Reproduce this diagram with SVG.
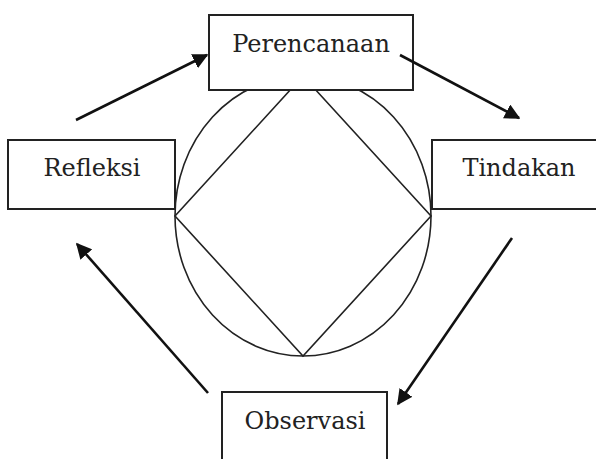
<svg xmlns="http://www.w3.org/2000/svg" width="596" height="459" viewBox="0 0 596 459">
<style>
.box{fill:#fff;stroke:#222;stroke-width:2}
.lbl{font-family:"DejaVu Serif","Liberation Serif",serif;font-size:24px;fill:#222;text-anchor:middle}
.shape{fill:none;stroke:#222;stroke-width:1.6}
.arr{stroke:#111;stroke-width:2.6;fill:none;marker-end:url(#ah)}
</style>
<defs>
<marker id="ah" viewBox="0 0 10 10" refX="9" refY="5" markerWidth="6" markerHeight="6" orient="auto" markerUnits="strokeWidth">
<path d="M0,0 L10,5 L0,10 z" fill="#111"/>
</marker>
</defs>
<rect width="596" height="459" fill="#fff"/>
<g id="cycle">
<ellipse class="shape" cx="303" cy="216" rx="128" ry="140"/>
<polygon class="shape" points="303,76 431,216 303,356 175,216"/>
</g>
<g id="perencanaan">
<rect class="box" x="209" y="15" width="204" height="75"/>
<text class="lbl" x="311" y="52">Perencanaan</text>
</g>
<g id="refleksi">
<rect class="box" x="8" y="140" width="167" height="69"/>
<text class="lbl" x="92" y="176">Refleksi</text>
</g>
<g id="tindakan">
<rect class="box" x="432" y="140" width="175" height="69"/>
<text class="lbl" x="519" y="176">Tindakan</text>
</g>
<g id="observasi">
<rect class="box" x="222" y="392" width="165" height="80"/>
<text class="lbl" x="305" y="429">Observasi</text>
</g>
<g id="connectors">
<line class="arr" x1="76" y1="120" x2="207" y2="55"/>
<line class="arr" x1="400" y1="55" x2="519" y2="118"/>
<line class="arr" x1="512" y1="238" x2="398" y2="404"/>
<line class="arr" x1="208" y1="393" x2="77" y2="244"/>
</g>
</svg>
